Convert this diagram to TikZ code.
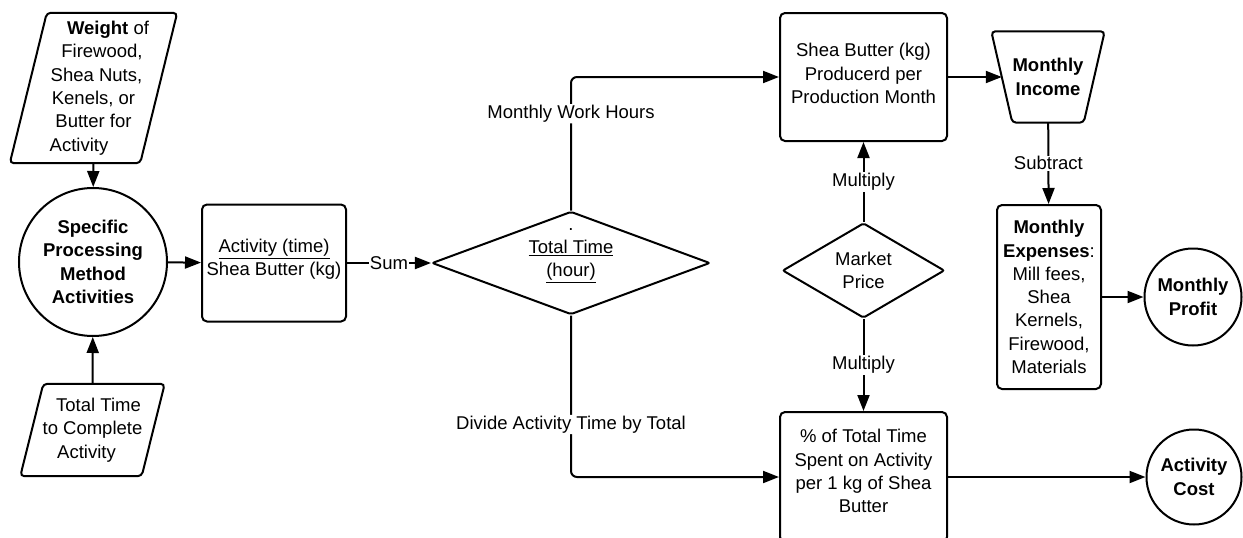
\documentclass[tikz,border=0pt]{standalone}
\usepackage{fontspec}
\setmainfont{Liberation Sans}
\usepackage{tikz}
\usetikzlibrary{shapes.geometric,arrows.meta}
\colorlet{flowInk}{black}
\newcommand{\sheaFont}{\fontsize{18.5}{23.3}\selectfont}

\begin{document}
\begin{tikzpicture}[
  x=1pt,
  y=-1pt,
  font=\sheaFont,
  flow line/.style={
    draw=flowInk,
    line width=2pt,
    -{Triangle[length=16pt,width=12pt]},
  },
  edge label/.style={
    fill=white,
    inner sep=1pt,
  },
  process box/.style={
    draw=flowInk,
    line width=2pt,
    rounded corners=5pt,
    align=center,
    inner sep=3pt,
  },
  slant holder/.style={
    rectangle,
    align=center,
    inner sep=0pt,
  },
  slant outline/.style={
    draw=flowInk,
    line width=2pt,
    rounded corners=4pt,
  },
  decision/.style={
    draw=flowInk,
    line width=2pt,
    diamond,
    aspect=1.7,
    rounded corners=2pt,
    align=center,
    inner sep=0pt,
  },
  terminal/.style={
    draw=flowInk,
    line width=2pt,
    circle,
    align=center,
    inner sep=2pt,
    font=\sheaFont\bfseries,
  },
]
\useasboundingbox (0,0) rectangle (1243,538);
\node[slant holder,minimum width=167pt,minimum height=150pt] (weight) at (93.5,88)
  {\hspace*{29pt}\textbf{Weight} of\\\hspace*{17pt}Firewood,\\\hspace*{6pt}Shea Nuts,\\
   Kenels, or\hspace*{6pt}\\Butter for\hspace*{17pt}\\Activity\hspace*{29pt}};
\draw[slant outline] ([xshift=37pt]weight.north west) -- (weight.north east)
  -- ([xshift=-37pt]weight.south east) -- (weight.south west) -- cycle;
\node[terminal,minimum size=148pt] (method) at (93,262)
  {Specific\\Processing\\Method\\Activities};
\node[slant holder,minimum width=144pt,minimum height=92pt] (total) at (92.5,430)
  {\hspace*{12pt}Total Time\\to Complete\\Activity\hspace*{12pt}};
\draw[slant outline] ([xshift=23pt]total.north west) -- (total.north east)
  -- ([xshift=-23pt]total.south east) -- (total.south west) -- cycle;
\node[process box,text depth=11pt,minimum width=144pt,minimum height=117pt] (activity) at (274,263)
  {\underline{Activity (time)}\\Shea Butter (kg)};
\node[decision,minimum width=278pt,minimum height=103pt] (hours) at (571,263) {};
\node[align=center] (hoursText) at (571,249)
  {\strut.\\\underline{Total Time}\\\underline{(hour)}\strut};
\node[process box,text depth=7pt,minimum width=167pt,minimum height=128pt] (butter) at (863.5,77)
  {Shea Butter (kg)\\Producerd per\\Production Month};
\node[decision,minimum width=162pt,minimum height=95pt] (price) at (863.5,270.5)
  {Market\\Price};
\node[process box,text depth=12pt,minimum width=167pt,minimum height=130pt] (share) at (863.5,477)
  {\% of Total Time\\Spent on Activity\\per 1 kg of Shea\\Butter};
\node[slant holder,font=\sheaFont\bfseries,minimum width=113pt,minimum height=91pt] (income) at (1048,77)
  {Monthly\\Income};
\draw[slant outline] (income.north west) -- (income.north east)
  -- ([xshift=-21pt]income.south east) -- ([xshift=21pt]income.south west) -- cycle;
\node[process box,minimum width=104pt,minimum height=184pt] (expenses) at (1049,297)
  {\textbf{Monthly}\\\textbf{Expenses}:\\Mill fees,\\Shea\\Kernels,\\Firewood,\\Materials};
\node[terminal,minimum size=97pt] (profit) at (1193,297) {Monthly\\Profit};
\node[terminal,minimum size=95pt] (cost) at (1194,477) {Activity\\Cost};

\draw[flow line] (weight) -- (method);
\draw[flow line] (total) -- (method);
\draw[flow line] (method) -- (activity);
\draw[flow line] (activity) -- node[edge label] {Sum} (hours);
\draw[flow line,rounded corners=6pt] (hours.north) |- node[edge label,pos=0.362] {Monthly Work Hours} (butter);
\draw[flow line,rounded corners=6pt] (hours.south) |- node[edge label,pos=0.3375] {Divide Activity Time by Total} (share);
\draw[flow line] (price) -- node[edge label] {Multiply} (butter);
\draw[flow line] (price) -- node[edge label] {Multiply} (share);
\draw[flow line] (butter) -- ([xshift=10.5pt]income.west);
\draw[flow line] (income) -- node[edge label] {Subtract} (expenses);
\draw[flow line] (expenses) -- (profit);
\draw[flow line] (share) -- (cost);
\end{tikzpicture}
\end{document}
